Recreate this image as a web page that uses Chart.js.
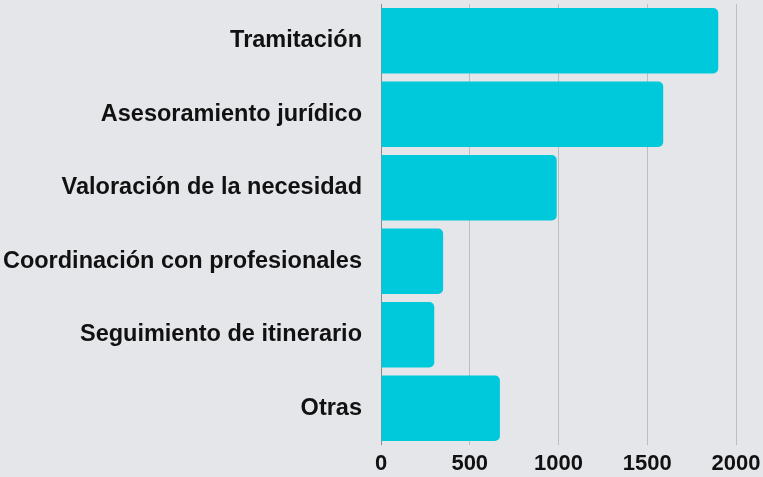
<!DOCTYPE html>
<html>
<head>
<meta charset="utf-8">
<script src="https://cdn.jsdelivr.net/npm/chart.js@4"></script>
<style>
  html, body { margin: 0; padding: 0; background: #e5e6ea; }
  #wrap { width: 763px; height: 477px; }
</style>
</head>
<body>
<div id="wrap"><canvas id="chart"></canvas></div>
<script>
const categories = [
    'Tramitación',
    'Asesoramiento jurídico',
    'Valoración de la necesidad',
    'Coordinación con profesionales',
    'Seguimiento de itinerario',
    'Otras'
];
const values = [1900, 1590, 990, 350, 300, 670];
const xTicks = [0, 500, 1000, 1500, 2000];

const fontFamily = '"Liberation Sans", Arial, sans-serif';

const data = {
    labels: categories,
    datasets: [{
        label: 'Actuaciones',
        backgroundColor: '#00c9dc',
        borderWidth: 0,
        borderRadius: 5,
        borderSkipped: 'start',
        categoryPercentage: 1,
        barPercentage: 0.893,
        data: values
    }]
};

const config = {
    type: 'bar',
    data: data,
    options: {
        indexAxis: 'y',
        responsive: true,
        maintainAspectRatio: false,
        animation: false,
        layout: { padding: { top: 4, right: 27, bottom: 0, left: 0 } },
        plugins: {
            legend: { display: false },
            tooltip: { enabled: false }
        },
        scales: {
            x: {
                min: 0,
                max: 2000,
                afterBuildTicks: axis => {
                    axis.ticks = xTicks.map(v => ({ value: v }));
                },
                afterFit: axis => {
                    axis.height = 32;
                    axis.paddingLeft = 0;
                    axis.paddingRight = 0;
                },
                grid: {
                    color: ctx => (ctx.tick && ctx.tick.value === 0) ? '#8a8b8f' : '#bdbec2',
                    drawTicks: false
                },
                border: { display: false },
                ticks: {
                    padding: 6,
                    color: '#111',
                    font: { family: fontFamily, size: 22, weight: 'bold' },
                    callback: v => String(v)
                }
            },
            y: {
                grid: { display: false, drawTicks: false },
                border: { display: false },
                afterFit: axis => {
                    axis.width = 381;
                    axis.paddingTop = 0;
                    axis.paddingBottom = 0;
                },
                ticks: {
                    padding: 19,
                    color: '#111',
                    font: { family: fontFamily, size: 23.5, weight: 'bold' }
                }
            }
        }
    }
};

new Chart(document.getElementById('chart'), config);
</script>
</body>
</html>
